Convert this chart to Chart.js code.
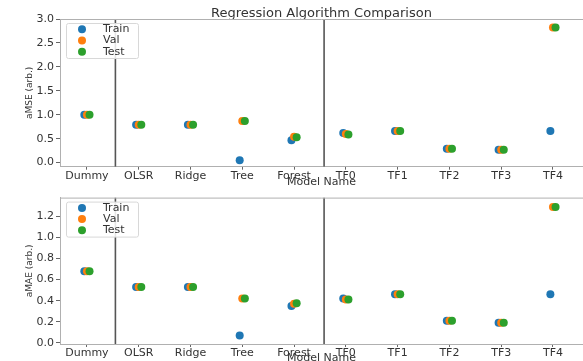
<!DOCTYPE html>
<html>
<head>
<meta charset="utf-8">
<script src="https://cdn.jsdelivr.net/npm/chart.js@4"></script>
<style>
body { margin: 0; background: #fff; width: 583px; height: 361px; overflow: hidden; position: relative; }
#mseChart { position: absolute; left: 0; top: 0; }
#maeChart { position: absolute; left: 0; top: 189px; }
</style>
</head>
<body>
<canvas id="mseChart" width="583" height="189"></canvas>
<canvas id="maeChart" width="583" height="172"></canvas>
<script>
const models = ['Dummy', 'OLSR', 'Ridge', 'Tree', 'Forest', 'TF0', 'TF1', 'TF2', 'TF3', 'TF4'];
const splits = ['Train', 'Val', 'Test'];

const mseTrain = [1.0, 0.79, 0.79, 0.05, 0.47, 0.62, 0.66, 0.29, 0.27, 0.66];
const mseVal = [1.0, 0.79, 0.79, 0.87, 0.54, 0.60, 0.66, 0.29, 0.27, 2.82];
const mseTest = [1.0, 0.79, 0.79, 0.87, 0.53, 0.59, 0.66, 0.29, 0.27, 2.82];

const maeTrain = [0.68, 0.53, 0.53, 0.07, 0.35, 0.42, 0.46, 0.21, 0.19, 0.46];
const maeVal = [0.68, 0.53, 0.53, 0.42, 0.37, 0.41, 0.46, 0.21, 0.19, 1.29];
const maeTest = [0.68, 0.53, 0.53, 0.42, 0.375, 0.41, 0.46, 0.21, 0.19, 1.29];

const mseTicks = [0, 0.5, 1.0, 1.5, 2.0, 2.5, 3.0];
const maeTicks = [0, 0.2, 0.4, 0.6, 0.8, 1.0, 1.2];

// vertical separators (x in category units), small x jitter per split
const dividers = [0.55, 4.58];
const jitter = [-0.05, 0, 0.05];

const colors = ['#1f77b4', '#ff7f0e', '#2ca02c'];
const font = 'DejaVu Sans';

// legend inside the plot + top frame line
const boxLegend = {
    id: 'boxLegend',
    afterDatasetsDraw(chart) {
        const ctx = chart.ctx;
        const ca = chart.chartArea;
        ctx.save();
        ctx.strokeStyle = '#b0b0b0';
        ctx.lineWidth = 1;
        ctx.beginPath();
        ctx.moveTo(ca.left, ca.top + 0.5);
        ctx.lineTo(ca.right, ca.top + 0.5);
        ctx.stroke();

        const x = ca.left + 6;
        const y = ca.top + 4;
        ctx.fillStyle = 'rgba(255,255,255,0.85)';
        ctx.strokeStyle = '#d8d8d8';
        ctx.beginPath();
        ctx.roundRect(x + 0.5, y + 0.5, 72, 35, 2);
        ctx.fill();
        ctx.stroke();

        ctx.font = '11px "' + font + '"';
        ctx.textBaseline = 'middle';
        splits.forEach((name, i) => {
            const ry = y + 6.3 + i * 11.2;
            ctx.fillStyle = colors[i];
            ctx.beginPath();
            ctx.arc(x + 16, ry, 4, 0, Math.PI * 2);
            ctx.fill();
            ctx.fillStyle = '#333';
            ctx.fillText(name, x + 37, ry);
        });
        ctx.restore();
    }
};

function makeChart(id, series, ticks, yMin, yMax, yTitle, title, topPad, xHeight, xTitlePad) {
    const datasets = series.map((vals, s) => ({
        type: 'scatter',
        label: splits[s],
        data: vals.map((v, i) => ({ x: i + jitter[s], y: v })),
        backgroundColor: colors[s],
        borderWidth: 0,
        pointRadius: 4,
        pointHoverRadius: 4,
        order: 3 - s
    }));
    dividers.forEach(d => {
        datasets.push({
            type: 'line',
            label: 'divider',
            data: [{ x: d, y: yMin }, { x: d, y: yMax }],
            borderColor: '#555',
            borderWidth: 1.6,
            pointRadius: 0,
            order: 5
        });
    });

    const ctx = document.getElementById(id).getContext('2d');
    return new Chart(ctx, {
        type: 'scatter',
        data: { datasets },
        options: {
            responsive: false,
            animation: false,
            layout: { autoPadding: false, padding: { top: topPad, left: 0, right: 0, bottom: 0 } },
            plugins: {
                legend: { display: false },
                tooltip: { enabled: false },
                title: {
                    display: !!title,
                    text: title,
                    fullSize: false,
                    color: '#333',
                    font: { family: font, size: 13, weight: 'normal' },
                    padding: { top: 6, bottom: -2.6 }
                }
            },
            scales: {
                x: {
                    type: 'linear',
                    min: -0.52,
                    max: 9.58,
                    afterBuildTicks: (scale) => { scale.ticks = models.map((m, i) => ({ value: i })); },
                    afterFit: (scale) => { scale.height = xHeight; },
                    grid: { display: true, drawOnChartArea: false, tickLength: 3, color: '#666' },
                    border: { color: '#b0b0b0' },
                    ticks: {
                        autoSkip: false,
                        maxRotation: 0,
                        padding: 0,
                        color: '#333',
                        font: { family: font, size: 11 },
                        callback: (v) => models[v]
                    },
                    title: {
                        display: true,
                        text: 'Model Name',
                        color: '#333',
                        font: { family: font, size: 11 },
                        padding: { top: 0, bottom: xTitlePad }
                    }
                },
                y: {
                    min: yMin,
                    max: yMax,
                    afterBuildTicks: (scale) => { scale.ticks = ticks.map(v => ({ value: v })); },
                    afterFit: (scale) => { scale.width = 60; },
                    grid: { display: true, drawOnChartArea: false, tickLength: 4, color: '#666' },
                    border: { color: '#b0b0b0' },
                    ticks: {
                        padding: 2,
                        color: '#333',
                        font: { family: font, size: 11 },
                        callback: (v) => Number(v).toFixed(1)
                    },
                    title: {
                        display: true,
                        text: yTitle,
                        color: '#333',
                        font: { family: font, size: 9 },
                        padding: { top: 24.6, bottom: 0 }
                    }
                }
            }
        },
        plugins: [boxLegend]
    });
}

makeChart('mseChart', [mseTrain, mseVal, mseTest], mseTicks, -0.085, 3.0,
    'aMSE (arb.)', 'Regression Algorithm Comparison', 0, 22.3, 0);
makeChart('maeChart', [maeTrain, maeVal, maeTest], maeTicks, -0.012, 1.38,
    'aMAE (arb.)', '', 7, 17, -4);
</script>
</body>
</html>
